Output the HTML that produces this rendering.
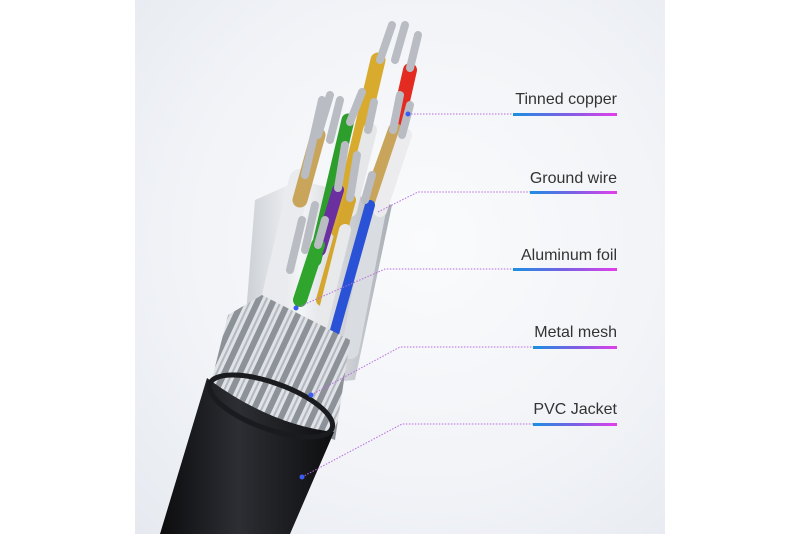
<!DOCTYPE html>
<html><head><meta charset="utf-8"><style>
html,body{margin:0;padding:0;background:#fff;}
body{width:800px;height:534px;position:relative;overflow:hidden;font-family:"Liberation Sans",sans-serif;}
#panel{position:absolute;left:135px;top:0;width:530px;height:534px;background:radial-gradient(ellipse at 55% 45%,#fafbfc 0%,#f1f3f7 60%,#e6eaf0 100%);}
.lbl{position:absolute;right:183px;font-size:16px;color:#333;text-align:right;white-space:nowrap;}
.ul{position:absolute;height:3px;background:linear-gradient(90deg,#1b8fe0,#7a5fe6,#e040e8);}
</style></head><body>
<div id="panel"></div>
<svg width="800" height="534" style="position:absolute;left:0;top:0">
<defs>
<linearGradient id="jk" x1="0" x2="1" y1="0" y2="0"><stop offset="0" stop-color="#0c0c0e"/><stop offset=".45" stop-color="#2c2e33"/><stop offset="1" stop-color="#0e0e10"/></linearGradient>
<linearGradient id="sv" x1="0" x2="1"><stop offset="0" stop-color="#c8ccd2"/><stop offset=".4" stop-color="#f4f5f7"/><stop offset="1" stop-color="#a9aeb5"/></linearGradient>
<pattern id="mesh" width="14" height="14" patternUnits="userSpaceOnUse" patternTransform="rotate(25)"><rect width="14" height="14" fill="#8d9198"/><rect width="8" height="14" fill="#dfe2e6"/><rect x="3" width="2" height="14" fill="#b5b9bf"/></pattern>
</defs>
<path d="M255,200 L300,180 L392,205 L355,380 L240,390 Z" fill="url(#sv)"/>
<g stroke-linecap="round">
<line x1="300" y1="180" x2="265" y2="330" stroke="#e9ebee" stroke-width="22"/>
<line x1="382" y1="185" x2="350" y2="350" stroke="#d9dce0" stroke-width="18"/>
<line x1="378" y1="60" x2="338" y2="230" stroke="#d8aa2e" stroke-width="15"/>
<line x1="410" y1="70" x2="385" y2="180" stroke="#e32b22" stroke-width="14"/>
<line x1="318" y1="135" x2="300" y2="200" stroke="#c9a55c" stroke-width="15"/>
<line x1="348" y1="120" x2="315" y2="260" stroke="#2d9e2c" stroke-width="13"/>
<line x1="370" y1="130" x2="350" y2="210" stroke="#e6e7e9" stroke-width="14"/>
<line x1="395" y1="130" x2="370" y2="200" stroke="#c9a55c" stroke-width="14"/>
<line x1="405" y1="135" x2="380" y2="210" stroke="#ececee" stroke-width="14"/>
<line x1="338" y1="190" x2="320" y2="250" stroke="#6b2fa0" stroke-width="12"/>
<line x1="350" y1="200" x2="322" y2="300" stroke="#d4a62e" stroke-width="12"/>
<line x1="370" y1="205" x2="310" y2="420" stroke="#2a52d6" stroke-width="10"/>
<line x1="318" y1="245" x2="300" y2="300" stroke="#2fa52d" stroke-width="14"/>
<line x1="345" y1="230" x2="320" y2="330" stroke="#e8e9eb" stroke-width="12"/>
<g stroke="#b9bdc3" stroke-width="8">
<line x1="392" y1="25" x2="380" y2="60"/><line x1="405" y1="25" x2="395" y2="60"/><line x1="418" y1="35" x2="410" y2="68"/>
<line x1="330" y1="95" x2="318" y2="135"/><line x1="322" y1="100" x2="305" y2="175"/><line x1="340" y1="100" x2="330" y2="140"/>
<line x1="362" y1="92" x2="350" y2="122"/><line x1="374" y1="102" x2="368" y2="130"/><line x1="400" y1="95" x2="393" y2="130"/>
<line x1="410" y1="105" x2="402" y2="135"/><line x1="345" y1="145" x2="338" y2="188"/><line x1="357" y1="155" x2="350" y2="198"/>
<line x1="372" y1="175" x2="365" y2="200"/><line x1="315" y1="205" x2="305" y2="250"/><line x1="325" y1="220" x2="318" y2="245"/>
<line x1="302" y1="220" x2="290" y2="270"/>
</g>
</g>
<path d="M228,315 L262,295 L350,340 L335,440 L208,395 Z" fill="url(#mesh)"/>
<path d="M207,378 Q270,425 334,432 L290,534 L160,534 Z" fill="url(#jk)"/>
<ellipse cx="271" cy="406" rx="65" ry="23" transform="rotate(20 271 406)" fill="none" stroke="#1a1b1e" stroke-width="5"/>
<g fill="none" stroke="#b86be0" stroke-width="1" stroke-dasharray="1.5 1.5">
<path d="M408,114 L513,114"/>
<path d="M378,212 L418,192 L530,192"/>
<path d="M296,308 L385,269 L513,269"/>
<path d="M311,395 L400,347 L533,347"/>
<path d="M302,477 L402,424 L533,424"/>
</g>
<g fill="#3b5cf0"><circle cx="408" cy="114" r="2.5"/><circle cx="296" cy="308" r="2.5"/><circle cx="311" cy="395" r="2.5"/><circle cx="302" cy="477" r="2.5"/></g>
</svg>
<div class="lbl" style="top:91px">Tinned copper</div><div class="ul" style="left:513px;top:113px;width:104px"></div>
<div class="lbl" style="top:170px">Ground wire</div><div class="ul" style="left:530px;top:191px;width:87px"></div>
<div class="lbl" style="top:247px">Aluminum foil</div><div class="ul" style="left:513px;top:268px;width:104px"></div>
<div class="lbl" style="top:324px">Metal mesh</div><div class="ul" style="left:533px;top:346px;width:84px"></div>
<div class="lbl" style="top:401px">PVC Jacket</div><div class="ul" style="left:533px;top:423px;width:84px"></div>
</body></html>
